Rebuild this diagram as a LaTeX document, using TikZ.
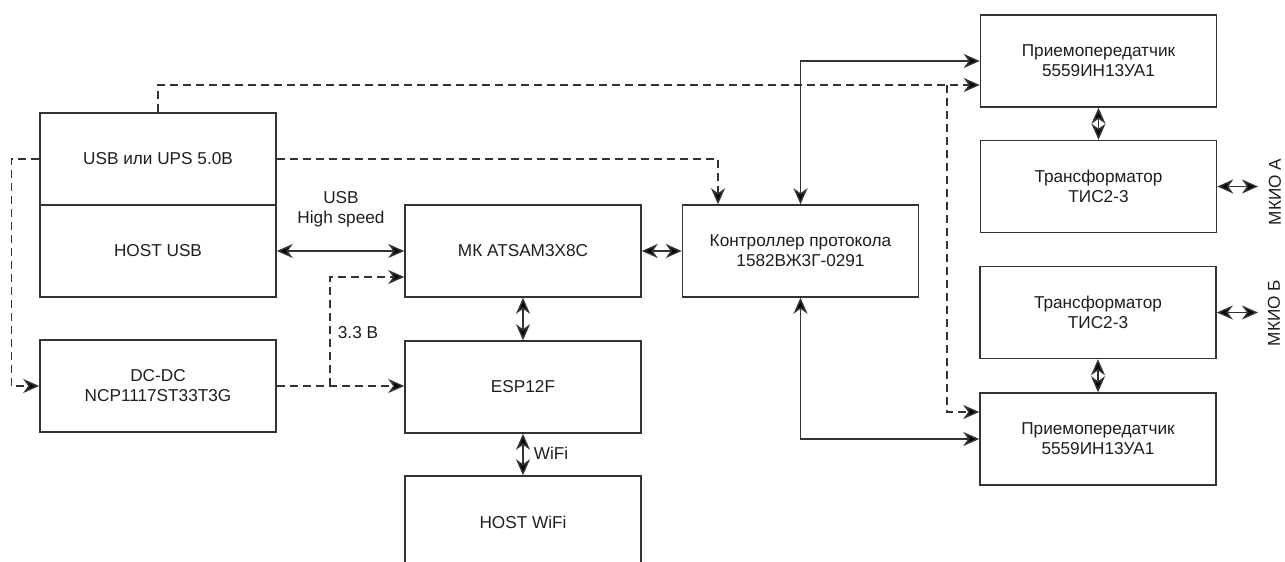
\documentclass[tikz,border=0pt]{standalone}
\usepackage{fontspec}
\setmainfont{Liberation Sans}
\usetikzlibrary{arrows.meta}

\definecolor{lineGray}{HTML}{333333}
\definecolor{textBlack}{HTML}{1E1E1E}

\def\boxWidth{236pt}
\def\boxHeight{92pt}
\def\tipLen{16pt}
\def\tipWid{14pt}

\tikzset{
  block/.style={draw=lineGray, line width=1.5pt, minimum width=\boxWidth, minimum height=\boxHeight, align=center, inner sep=2pt},
  link/.style={draw=lineGray, line width=1.5pt, -{Stealth[length=\tipLen,width=\tipWid,inset=5pt,fill=black]}},
  dlink/.style={link, {Stealth[length=\tipLen,width=\tipWid,inset=5pt,fill=black]}-{Stealth[length=\tipLen,width=\tipWid,inset=5pt,fill=black]}},
  pwr/.style={link, dash pattern=on 8pt off 5pt},
  lbl/.style={align=center, inner sep=1pt},
}

\begin{document}
\begin{tikzpicture}[x=1pt, y=-1pt, font=\fontsize{17.2}{20}\selectfont, text=textBlack]
    \useasboundingbox (0,0) rectangle (1285,562);

    \node[block] (usb)     at (158,159)    {USB или UPS 5.0В};
    \node[block] (hostusb) at (158,251)    {HOST USB};
    \node[block] (dcdc)    at (158,386)    {DC-DC\\NCP1117ST33T3G};
    \node[block] (mk)      at (523,251)    {МК ATSAM3X8C};
    \node[block] (esp)     at (523,387)    {ESP12F};
    \node[block] (wifi)    at (523,522)    {HOST WiFi};
    \node[block] (ctrl)    at (800.5,251)  {Контроллер протокола\\1582ВЖ3Г-0291};
    \node[block] (rxA)     at (1098.5,61)  {Приемопередатчик\\5559ИН13УА1};
    \node[block] (trA)     at (1098.5,186.5) {Трансформатор\\ТИС2-3};
    \node[block] (trB)     at (1098,312.5) {Трансформатор\\ТИС2-3};
    \node[block] (rxB)     at (1098,439)   {Приемопередатчик\\5559ИН13УА1};

    \node[lbl] (lblUsb)  at (341,209)  {USB\\High speed};
    \node[lbl] (lblPwr)  at (358,333)  {3.3 В};
    \node[lbl] (lblWifi) at (551,453)  {WiFi};
    \node[lbl, rotate=90] (mkioA) at (1275,192) {МКИО А};
    \node[lbl, rotate=90] (mkioB) at (1274,313) {МКИО Б};

    \coordinate (splitTop) at (947,85);
    \coordinate (splitPwr) at (330,386);
    \coordinate (endA) at (1258,186.5);
    \coordinate (endB) at (1258,312.5);

    % power lines
    \draw[pwr] (usb.north) |- ([yshift=-24pt]rxA.west);
    \draw[pwr] (splitTop) |- ([yshift=27pt]rxB.west);
    \draw[pwr] (usb.west) -- ++(-28,0) |- (dcdc.west);
    \draw[pwr] (usb.east) -| ([xshift=-82.5pt]ctrl.north);
    \draw[pwr] (dcdc.east) -- (dcdc.east -| esp.west);
    \draw[pwr] (splitPwr) |- ([yshift=-26pt]mk.west);

    % data lines
    \draw[dlink] (hostusb.east) -- (mk.west);
    \draw[dlink] (mk.east) -- (ctrl.west);
    \draw[dlink] (mk.south) -- (esp.north);
    \draw[dlink] (esp.south) -- (wifi.north);
    \draw[dlink] (ctrl.north) |- (rxA.west);
    \draw[dlink] (ctrl.south) |- (rxB.west);
    \draw[dlink] (rxA.south) -- (trA.north);
    \draw[dlink] (trB.south) -- (rxB.north);
    \draw[dlink] (trA.east) -- (endA);
    \draw[dlink] (trB.east) -- (endB);
\end{tikzpicture}
\end{document}
